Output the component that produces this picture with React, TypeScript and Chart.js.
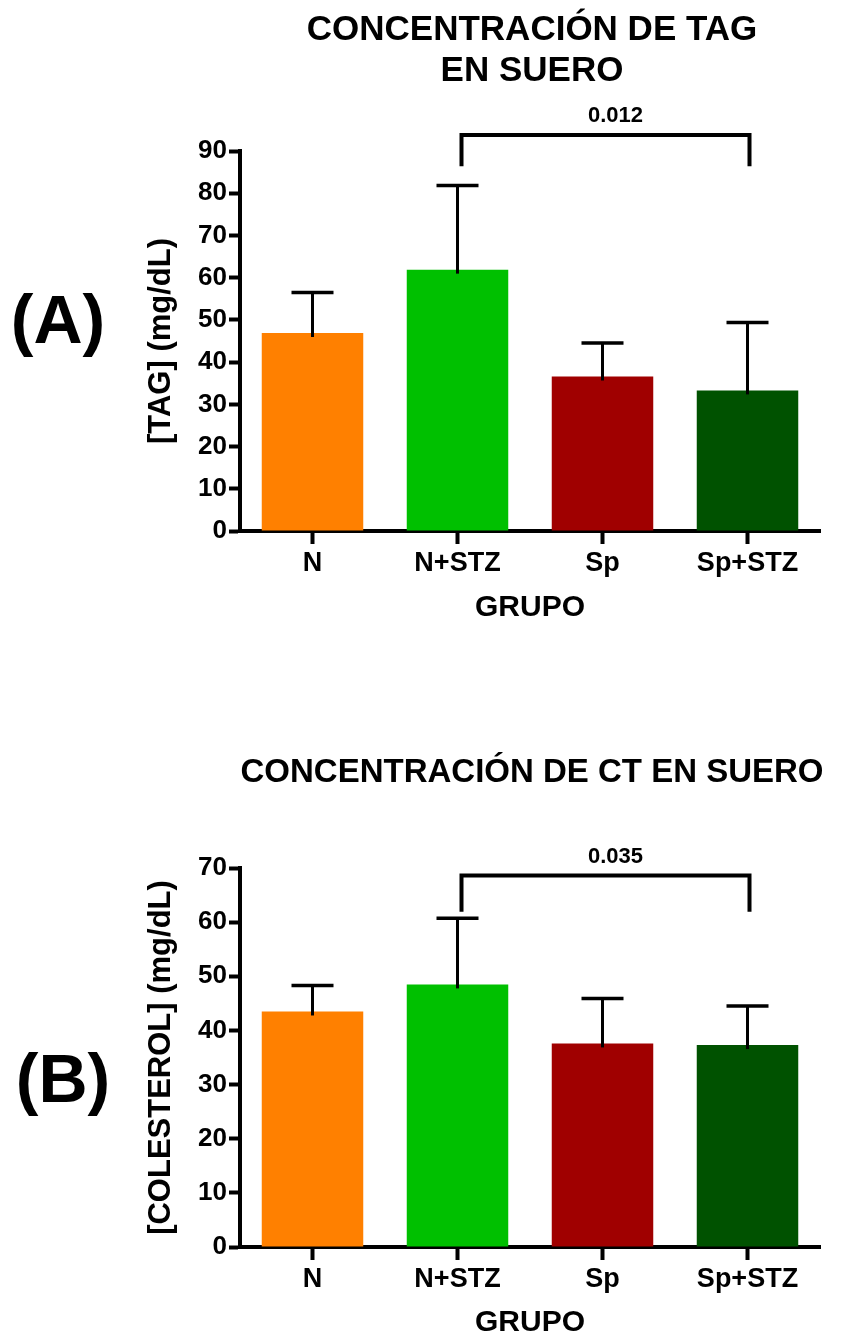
import React, { useEffect, useRef } from "react";
import { Chart, registerables } from "chart.js";

Chart.register(...registerables);

const FONT = "'Liberation Sans', Arial, Helvetica, sans-serif";

// ---- data ----
const groups = ["N", "N+STZ", "Sp", "Sp+STZ"];
const barColors = ["#FF8000", "#00C000", "#A00000", "#005200"];

const tagMeans = [46.9, 61.9, 36.6, 33.3];
const tagErrors = [9.6, 19.9, 7.9, 16.1];
const tagTicks = [0, 10, 20, 30, 40, 50, 60, 70, 80, 90];
const tagBracketGroups = [1, 3];
const tagBracketLevels = [93.8, 86.4];
const tagPValue = "0.012";

const ctMeans = [43.5, 48.5, 37.6, 37.3];
const ctErrors = [4.8, 12.2, 8.3, 7.2];
const ctTicks = [0, 10, 20, 30, 40, 50, 60, 70];
const ctBracketGroups = [1, 3];
const ctBracketLevels = [68.6, 61.9];
const ctPValue = "0.035";

type Panel = {
  means: number[];
  errors: number[];
  ticks: number[];
  bracketGroups: number[];
  bracketLevels: number[];
  pValue: string;
  yTitle: string;
  titleLines: string[];
  titleYs: number[];
  titleX: number;
  titleSize: number;
  letter: string;
  letterX: number;
  letterY: number;
  canvasH: number;
  areaTop: number;
  areaBottom: number;
  grupoPad: number;
};

const panelA: Panel = {
  means: tagMeans,
  errors: tagErrors,
  ticks: tagTicks,
  bracketGroups: tagBracketGroups,
  bracketLevels: tagBracketLevels,
  pValue: tagPValue,
  yTitle: "[TAG] (mg/dL)",
  titleLines: ["CONCENTRACIÓN DE TAG", "EN SUERO"],
  titleYs: [30, 71],
  titleX: 532,
  titleSize: 35,
  letter: "(A)",
  letterX: 58,
  letterY: 324,
  canvasH: 669,
  areaTop: 151,
  areaBottom: 531,
  grupoPad: 46,
};

const panelB: Panel = {
  means: ctMeans,
  errors: ctErrors,
  ticks: ctTicks,
  bracketGroups: ctBracketGroups,
  bracketLevels: ctBracketLevels,
  pValue: ctPValue,
  yTitle: "[COLESTEROL] (mg/dL)",
  titleLines: ["CONCENTRACIÓN DE CT EN SUERO"],
  titleYs: [104],
  titleX: 532,
  titleSize: 33,
  letter: "(B)",
  letterX: 63,
  letterY: 414,
  canvasH: 669,
  areaTop: 199,
  areaBottom: 578,
  grupoPad: 0,
};

function makePlugin(p: Panel) {
  return {
    id: "annot",
    afterDatasetsDraw(chart: any) {
      const ctx = chart.ctx;
      const y = chart.scales.y;
      const meta = chart.getDatasetMeta(0);
      ctx.save();
      ctx.strokeStyle = "#000";
      meta.data.forEach((bar: any, i: number) => {
        const cx = bar.x;
        const y0 = y.getPixelForValue(p.means[i]);
        const y1 = y.getPixelForValue(p.means[i] + p.errors[i]);
        ctx.lineWidth = 3;
        ctx.beginPath();
        ctx.moveTo(cx, y0 + 4);
        ctx.lineTo(cx, y1);
        ctx.stroke();
        ctx.lineWidth = 3.5;
        ctx.beginPath();
        ctx.moveTo(cx - 21, y1);
        ctx.lineTo(cx + 21, y1);
        ctx.stroke();
      });
      ctx.restore();
    },
    afterDraw(chart: any) {
      const ctx = chart.ctx;
      const x = chart.scales.x;
      const y = chart.scales.y;
      ctx.save();
      ctx.fillStyle = "#000";
      ctx.strokeStyle = "#000";
      ctx.textAlign = "center";
      ctx.textBaseline = "middle";
      ctx.font = `bold ${p.titleSize}px ${FONT}`;
      p.titleLines.forEach((t, i) => ctx.fillText(t, p.titleX, p.titleYs[i]));
      ctx.font = `bold 68px ${FONT}`;
      ctx.fillText(p.letter, p.letterX, p.letterY);

      const xa = x.getPixelForValue(p.bracketGroups[0]) + 4;
      const xb = x.getPixelForValue(p.bracketGroups[1]) + 2;
      const yl = y.getPixelForValue(p.bracketLevels[0]);
      const yd = y.getPixelForValue(p.bracketLevels[1]);
      ctx.lineWidth = 4;
      ctx.lineJoin = "miter";
      ctx.beginPath();
      ctx.moveTo(xa, yd);
      ctx.lineTo(xa, yl);
      ctx.lineTo(xb, yl);
      ctx.lineTo(xb, yd);
      ctx.stroke();
      ctx.font = `bold 22px ${FONT}`;
      ctx.fillText(p.pValue, (xa + xb) / 2 + 10, yl - 19);
      ctx.restore();
    },
  };
}

function makeConfig(p: Panel): any {
  return {
    type: "bar",
    data: {
      labels: groups,
      datasets: [
        {
          data: p.means,
          backgroundColor: barColors,
          borderWidth: 0,
          barPercentage: 0.7,
          categoryPercentage: 1,
        },
      ],
    },
    options: {
      animation: false,
      responsive: false,
      layout: { padding: { left: 0, right: 30, top: p.areaTop, bottom: 0 } },
      plugins: {
        legend: { display: false },
        tooltip: { enabled: false },
        title: { display: false },
      },
      scales: {
        x: {
          type: "category",
          offset: true,
          afterFit: (s: any) => {
            s.height = p.canvasH - p.areaBottom;
          },
          grid: {
            display: true,
            offset: false,
            drawOnChartArea: false,
            drawTicks: true,
            tickLength: 13,
            tickWidth: 4,
            tickColor: "#000",
          },
          border: { display: true, width: 4, color: "#000" },
          ticks: {
            color: "#000",
            font: { family: FONT, size: 27, weight: "bold" },
            padding: 3,
            maxRotation: 0,
            autoSkip: false,
          },
          title: {
            display: true,
            text: "GRUPO",
            color: "#000",
            font: { family: FONT, size: 30, weight: "bold", lineHeight: 1 },
            padding: { top: 0, bottom: p.grupoPad },
          },
        },
        y: {
          min: 0,
          max: p.ticks[p.ticks.length - 1],
          afterFit: (s: any) => {
            s.width = 240;
          },
          afterBuildTicks: (s: any) => {
            s.ticks = p.ticks.map((v) => ({ value: v }));
          },
          grid: {
            display: true,
            drawOnChartArea: false,
            drawTicks: true,
            tickLength: 11,
            tickWidth: 4,
            tickColor: "#000",
          },
          border: { display: true, width: 4, color: "#000" },
          ticks: {
            color: "#000",
            font: { family: FONT, size: 26, weight: "bold" },
            padding: 2,
          },
          title: {
            display: true,
            text: p.yTitle,
            color: "#000",
            font: { family: FONT, size: 31, weight: "bold", lineHeight: 1 },
            padding: { top: 146, bottom: 0 },
          },
        },
      },
    },
    plugins: [makePlugin(p)],
  };
}

export default function App() {
  const refA = useRef<HTMLCanvasElement>(null);
  const refB = useRef<HTMLCanvasElement>(null);

  useEffect(() => {
    const a = new Chart(refA.current as HTMLCanvasElement, makeConfig(panelA));
    const b = new Chart(refB.current as HTMLCanvasElement, makeConfig(panelB));
    return () => {
      a.destroy();
      b.destroy();
    };
  }, []);

  return (
    <div
      style={{
        position: "absolute",
        left: 0,
        top: 0,
        width: 850,
        height: 1338,
        background: "#fff",
        overflow: "hidden",
      }}
    >
      <canvas
        ref={refA}
        width={850}
        height={669}
        style={{ position: "absolute", left: 0, top: 0, width: 850, height: 669 }}
      />
      <canvas
        ref={refB}
        width={850}
        height={669}
        style={{ position: "absolute", left: 0, top: 669, width: 850, height: 669 }}
      />
    </div>
  );
}
